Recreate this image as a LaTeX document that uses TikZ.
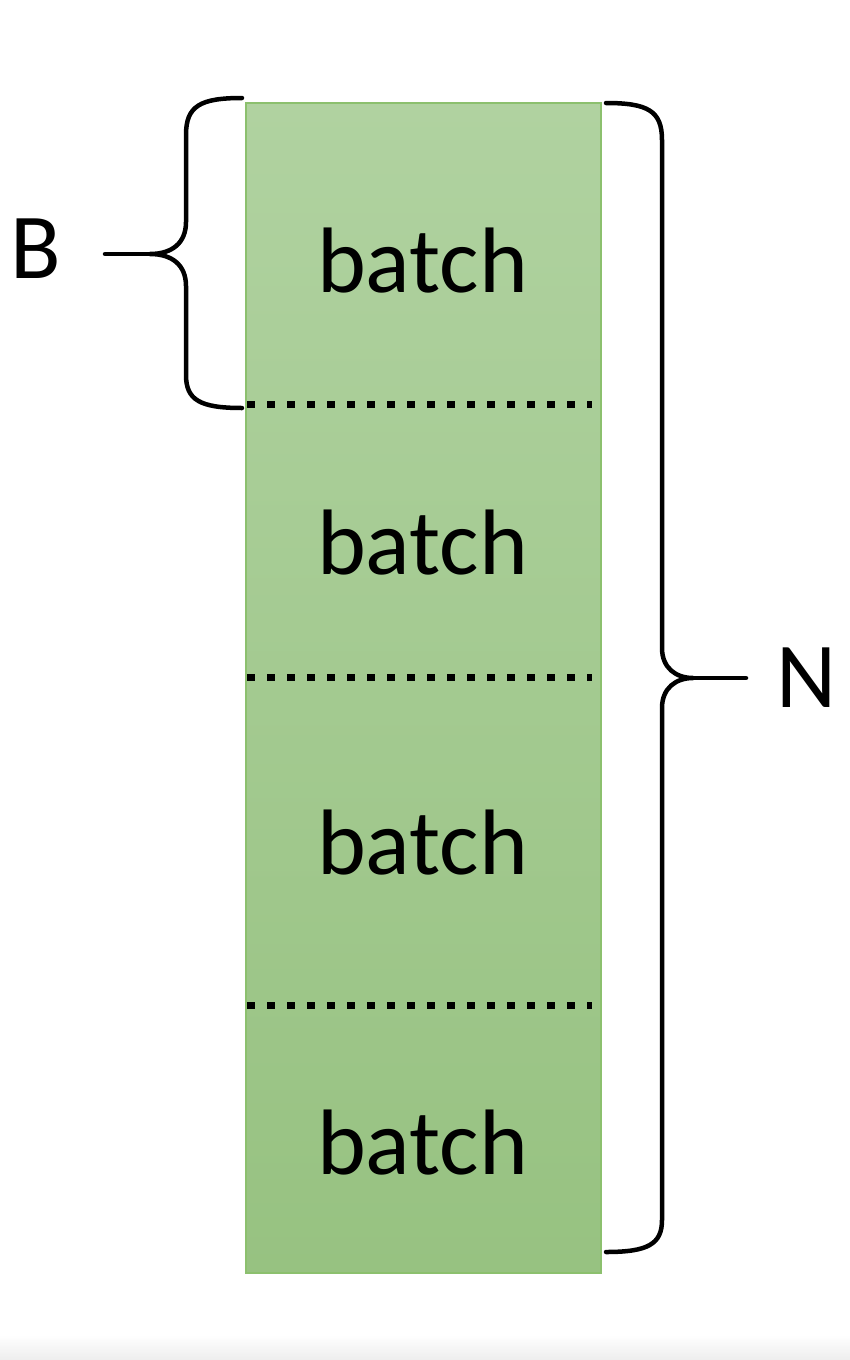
\documentclass[tikz,border=0pt]{standalone}
\usepackage{fontspec}
\setmainfont{Carlito}
\definecolor{gtop}{RGB}{176,210,160}
\definecolor{gbot}{RGB}{151,194,129}
\definecolor{gedge}{RGB}{140,192,110}
\begin{document}
\begin{tikzpicture}[x=1pt,y=-1pt,
  colbox/.style={draw=gedge,line width=1.5pt,top color=gtop,bottom color=gbot,
    minimum width=355pt,minimum height=1170pt,inner sep=0pt,outer sep=0pt},
  lbl/.style={font=\fontsize{93}{100}\selectfont,anchor=base,inner sep=0pt},
  dotline/.style={line width=7pt,dash pattern=on 8pt off 12pt,line cap=butt},
  bracepath/.style={line width=4.5pt,line cap=round,line join=round}]
\useasboundingbox (0,0) rectangle (850,1360);
\fill[white] (0,0) rectangle (850,1360);
\shade[top color=white,bottom color=black!7] (0,1335) rectangle (850,1360);
% column
\node[colbox] (col) at (423.5,688) {};
% batch labels
\node[lbl] (b1) at (422.5,292) {batch};
\node[lbl] (b2) at (422.5,574) {batch};
\node[lbl] (b3) at (422.5,874) {batch};
\node[lbl] (b4) at (422.5,1174) {batch};
% dotted separators
\coordinate (s1l) at (247,404); \coordinate (s1r) at (592,404);
\coordinate (s2l) at (247,677); \coordinate (s2r) at (592,677);
\coordinate (s3l) at (247,1005); \coordinate (s3r) at (592,1005);
\draw[dotline] (s1l) -- (s1r);
\draw[dotline] (s2l) -- (s2r);
\draw[dotline] (s3l) -- (s3r);
% B brace
\node[lbl] (B) at (36,278) {B};
\coordinate (btop) at (242,98);
\coordinate (bbot) at (242,408);
\coordinate (btip) at (150,254);
\coordinate (bstub) at (105,254);
\draw[bracepath] (btop) .. controls (200,98) and (186,106) .. (186,135)
  -- (186,222) .. controls (186,243) and (172,254) .. (btip)
  .. controls (172,254) and (186,265) .. (186,286)
  -- (186,375) .. controls (186,400) and (200,408) .. (bbot);
\draw[bracepath] (btip) -- (bstub);
% N brace
\node[lbl] (N) at (807,707) {N};
\coordinate (ntop) at (606,103);
\coordinate (nbot) at (606,1252);
\coordinate (ntip) at (693,678);
\coordinate (nstub) at (746,678);
\draw[bracepath] (ntop) .. controls (648,103) and (662,111) .. (662,140)
  -- (662,648) .. controls (662,668) and (676,678) .. (ntip)
  .. controls (676,678) and (662,688) .. (662,708)
  -- (662,1220) .. controls (662,1244) and (648,1252) .. (nbot);
\draw[bracepath] (ntip) -- (nstub);
\end{tikzpicture}
\end{document}
